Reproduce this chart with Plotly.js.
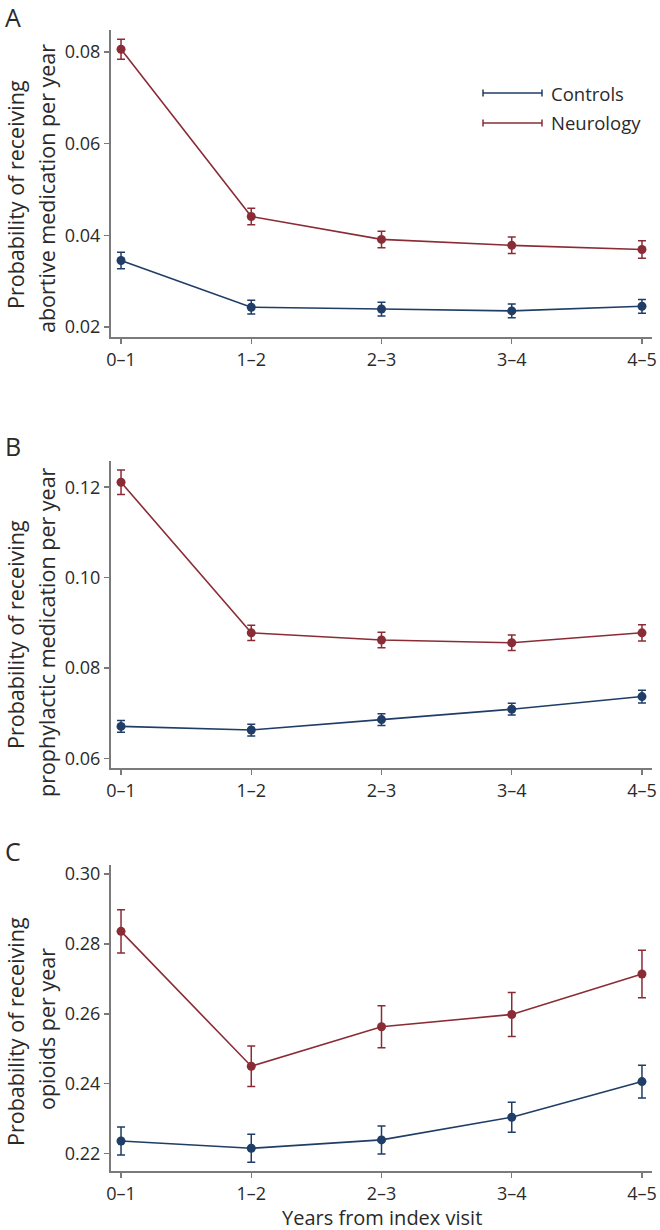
<!DOCTYPE html>
<html>
<head>
<meta charset="utf-8">
<script src="https://cdn.plot.ly/plotly-3.0.1.min.js"></script>
<style>html,body{margin:0;padding:0;background:#fff}#chart{width:660px;height:1230px}</style>
</head>
<body>
<div id="chart"></div>
<script>
// ---- data ----
const categories = ["0\u20131", "1\u20132", "2\u20133", "3\u20134", "4\u20135"];

const abortiveControls = [0.0345, 0.0243, 0.0239, 0.0235, 0.0245];
const abortiveControlsErr = [0.0018, 0.0015, 0.0015, 0.0015, 0.0015];
const abortiveNeurology = [0.0806, 0.0441, 0.0391, 0.0378, 0.0369];
const abortiveNeurologyErr = [0.0022, 0.0018, 0.0018, 0.0018, 0.0019];

const prophylacticControls = [0.0671, 0.0663, 0.0686, 0.0709, 0.0737];
const prophylacticControlsErr = [0.0013, 0.0013, 0.0013, 0.0013, 0.0014];
const prophylacticNeurology = [0.1211, 0.0878, 0.0862, 0.0856, 0.0878];
const prophylacticNeurologyErr = [0.0027, 0.0017, 0.0017, 0.0017, 0.0018];

const opioidsControls = [0.2236, 0.2215, 0.2239, 0.2304, 0.2406];
const opioidsControlsErr = [0.0040, 0.0040, 0.0040, 0.0043, 0.0047];
const opioidsNeurology = [0.2836, 0.2450, 0.2563, 0.2598, 0.2714];
const opioidsNeurologyErr = [0.0062, 0.0058, 0.0060, 0.0063, 0.0068];

const seriesNames = ["Controls", "Neurology"];
const panelLetters = ["A", "B", "C"];
const yTitleLine1 = ["Probability of receiving", "Probability of receiving", "Probability of receiving"];
const yTitleLine2 = ["abortive medication per year", "prophylactic medication per year", "opioids per year"];
const xTitle = "Years from index visit";

// ---- styling ----
const colControls = "#1f3d66";
const colNeurology = "#8a2c36";
const axisCol = "#7a7a7a";
const textCol = "#2a2a2a";
const FONT = "Open Sans, sans-serif";

const W = 660, H = 1230;
const M = {l: 111, r: 8, t: 30, b: 59};
const PW = W - M.l - M.r, PH = H - M.t - M.b;
const px = x => (x - M.l) / PW;
const py = y => (H - M.b - y) / PH;

function trace(y, err, color, name, xa, ya) {
  return {
    type: "scatter", mode: "lines+markers", x: categories, y: y, name: name,
    xaxis: xa, yaxis: ya, showlegend: false,
    line: {color: color, width: 1.6},
    marker: {color: color, size: 9},
    error_y: {type: "data", array: err, visible: true, color: color, thickness: 1.5, width: 4},
    cliponaxis: false
  };
}

const data = [
  trace(abortiveControls, abortiveControlsErr, colControls, seriesNames[0], "x", "y"),
  trace(abortiveNeurology, abortiveNeurologyErr, colNeurology, seriesNames[1], "x", "y"),
  trace(prophylacticControls, prophylacticControlsErr, colControls, seriesNames[0], "x2", "y2"),
  trace(prophylacticNeurology, prophylacticNeurologyErr, colNeurology, seriesNames[1], "x2", "y2"),
  trace(opioidsControls, opioidsControlsErr, colControls, seriesNames[0], "x3", "y3"),
  trace(opioidsNeurology, opioidsNeurologyErr, colNeurology, seriesNames[1], "x3", "y3")
];

function xaxis(anchor) {
  return {
    anchor: anchor, domain: [0, 1], type: "category", categoryorder: "array", categoryarray: categories,
    range: [-0.077, 4.077], showline: true, linecolor: axisCol, linewidth: 2,
    ticks: "outside", ticklen: 5, tickwidth: 1.5, tickcolor: axisCol,
    showgrid: false, zeroline: false,
    tickfont: {family: FONT, size: 18, color: textCol}, fixedrange: true
  };
}
function yaxis(anchor, domain, range, tickvals) {
  return {
    anchor: anchor, domain: domain, range: range, tickvals: tickvals, tickformat: ".2f",
    showline: true, linecolor: axisCol, linewidth: 2,
    ticks: "outside", ticklen: 5, tickwidth: 1.5, tickcolor: axisCol,
    showgrid: false, zeroline: false,
    tickfont: {family: FONT, size: 18, color: textCol}, fixedrange: true
  };
}

const annotations = [];
const shapes = [];
// panel letters
[[17, "A"], [446, "B"], [851, "C"]].forEach(([yy, t]) => {
  annotations.push({xref: "paper", yref: "paper", x: px(3), y: py(yy), xanchor: "left", yanchor: "middle",
    text: t, showarrow: false, font: {family: FONT, size: 25, color: textCol}});
});
// y titles (two lines each)
[[195, 189], [635, 632], [1032, 1029]].forEach(([c1, c2], i) => {
  annotations.push({xref: "paper", yref: "paper", x: px(15), y: py(c1), xanchor: "center", yanchor: "middle",
    text: yTitleLine1[i], textangle: -90, showarrow: false, font: {family: FONT, size: 21.5, color: textCol}});
  annotations.push({xref: "paper", yref: "paper", x: px(46), y: py(c2), xanchor: "center", yanchor: "middle",
    text: yTitleLine2[i], textangle: -90, showarrow: false, font: {family: FONT, size: 21.5, color: textCol}});
});
// x title
annotations.push({xref: "paper", yref: "paper", x: 0.5, y: py(1217), xanchor: "center", yanchor: "middle",
  text: xTitle, showarrow: false, font: {family: FONT, size: 20, color: textCol}});

// custom legend
[[93, colControls, seriesNames[0]], [123, colNeurology, seriesNames[1]]].forEach(([yy, c, name]) => {
  shapes.push({type: "line", xref: "paper", yref: "paper", x0: px(483), x1: px(542), y0: py(yy), y1: py(yy), line: {color: c, width: 1.5}});
  shapes.push({type: "line", xref: "paper", yref: "paper", x0: px(483), x1: px(483), y0: py(yy - 3.5), y1: py(yy + 3.5), line: {color: c, width: 1.5}});
  shapes.push({type: "line", xref: "paper", yref: "paper", x0: px(542), x1: px(542), y0: py(yy - 3.5), y1: py(yy + 3.5), line: {color: c, width: 1.5}});
  annotations.push({xref: "paper", yref: "paper", x: px(549), y: py(yy), xanchor: "left", yanchor: "middle",
    text: name, showarrow: false, font: {family: FONT, size: 18.5, color: textCol}});
});

const layout = {
  width: W, height: H, margin: M, paper_bgcolor: "#fff", plot_bgcolor: "#fff",
  showlegend: false, font: {family: FONT, color: textCol},
  xaxis: xaxis("y"), xaxis2: xaxis("y2"), xaxis3: xaxis("y3"),
  yaxis: yaxis("x", [py(337), py(30)], [0.0178, 0.0848], [0.02, 0.04, 0.06, 0.08]),
  yaxis2: yaxis("x2", [py(768), py(461)], [0.0579, 0.1258], [0.06, 0.08, 0.10, 0.12]),
  yaxis3: yaxis("x3", [0, py(865)], [0.215, 0.3026], [0.22, 0.24, 0.26, 0.28, 0.30]),
  annotations: annotations, shapes: shapes
};

Plotly.newPlot("chart", data, layout, {displayModeBar: false, staticPlot: true});
</script>
</body>
</html>
